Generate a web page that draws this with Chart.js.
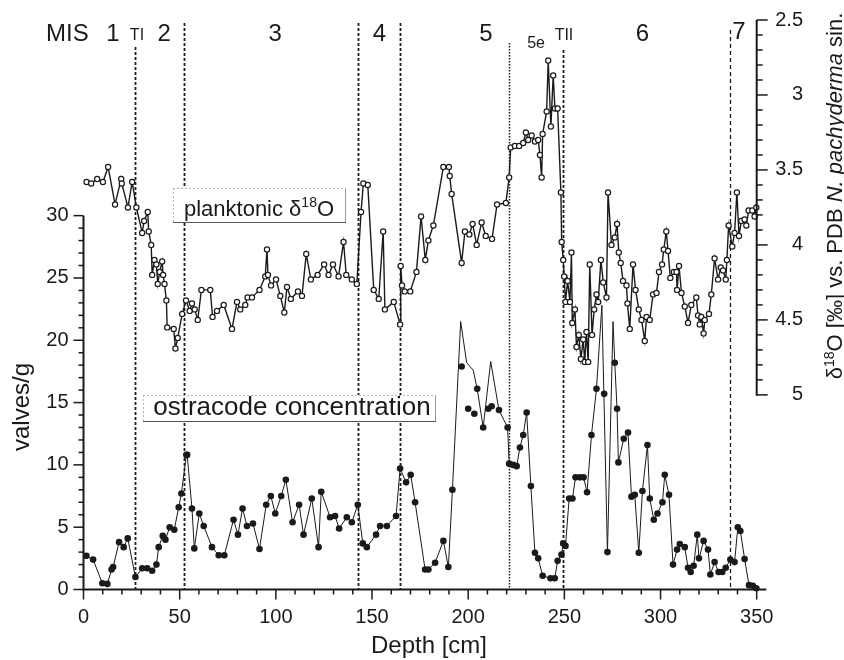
<!DOCTYPE html>
<html>
<head>
<meta charset="utf-8">
<script src="https://cdn.jsdelivr.net/npm/chart.js@4.4.1/dist/chart.umd.min.js"></script>
<style>
  html, body { margin: 0; padding: 0; background: #fff; }
  canvas { display: block; }
</style>
</head>
<body>
<canvas id="depthChart" width="844" height="660"></canvas>
<script>
// planktonic d18O (right axis, reversed)
var deltaDepth = [1.6, 4.0, 7.1, 10.1, 12.8, 16.4, 19.6, 19.9, 23.1, 25.3, 27.5, 30.5, 31.5, 33.4, 33.9, 35.2, 35.7, 36.9, 37.9, 38.6,
    39.6, 40.9, 41.4, 42.1, 43.1, 43.5, 46.9, 47.8, 49.0, 51.3, 53.3, 55.2, 56.4, 57.8, 59.4, 61.3, 65.9, 67.1, 69.4, 72.9,
    77.2, 79.8, 81.5, 84.1, 85.3, 87.6, 91.5, 94.5, 95.4, 95.9, 97.5, 100.1, 102.3, 104.4, 105.8, 107.8, 111.5, 113.6, 115.8, 118.2,
    121.7, 125.1, 127.4, 129.7, 132.6, 135.2, 136.6, 139.5, 142.1, 144.3, 145.5, 147.8, 150.9, 153.5, 155.8, 156.7, 161.3, 164.6, 164.9, 165.6,
    167.0, 169.9, 173.1, 175.5, 177.7, 179.3, 181.9, 187.1, 190.0, 190.4, 191.4, 196.6, 198.3, 200.6, 202.3, 204.4, 207.0, 209.1, 212.4, 215.0,
    219.6, 221.3, 222.1, 224.3, 226.5, 228.6, 230.0, 231.2, 233.0, 234.7, 236.4, 237.3, 238.2, 238.7, 240.8, 241.6, 243.0, 244.2, 245.1, 246.5,
    248.2, 248.6, 249.4, 249.9, 250.6, 251.7, 252.9, 253.7, 254.1, 255.5, 256.3, 257.5, 258.6, 259.8, 260.6, 261.5, 262.4, 263.2, 264.4, 265.5,
    266.7, 267.6, 269.0, 270.2, 271.9, 272.7, 274.5, 276.2, 277.4, 278.3, 279.3, 280.5, 282.3, 282.8, 284.0, 285.7, 287.0, 288.7, 290.1, 291.8,
    292.7, 294.4, 296.1, 297.9, 299.2, 300.8, 301.7, 303.0, 303.9, 305.1, 306.9, 308.3, 308.6, 309.6, 310.9, 312.6, 314.3, 316.0, 318.6, 319.5,
    320.4, 321.2, 322.4, 323.0, 325.2, 326.4, 328.1, 329.9, 331.3, 332.5, 333.9, 334.5, 335.4, 337.3, 338.5, 339.7, 340.8, 342.0, 343.7, 344.6,
    345.8, 347.7, 348.9, 349.8];
var deltaValue = [3.58, 3.59, 3.56, 3.58, 3.48, 3.73, 3.56, 3.59, 3.75, 3.58, 3.75, 3.92, 3.84, 3.78, 3.91, 4.00, 4.20, 4.10, 4.13, 4.26,
    4.18, 4.11, 4.20, 4.26, 4.37, 4.55, 4.56, 4.69, 4.62, 4.46, 4.37, 4.44, 4.39, 4.43, 4.50, 4.30, 4.30, 4.48, 4.44, 4.40,
    4.56, 4.38, 4.43, 4.40, 4.35, 4.35, 4.30, 4.21, 4.03, 4.20, 4.27, 4.23, 4.34, 4.45, 4.28, 4.36, 4.31, 4.34, 4.06, 4.23,
    4.20, 4.13, 4.20, 4.13, 4.21, 3.98, 4.20, 4.23, 4.26, 3.78, 3.59, 3.60, 4.30, 4.36, 3.91, 4.43, 4.38, 4.53, 4.14, 4.27,
    4.31, 4.31, 4.18, 3.81, 4.10, 3.97, 3.87, 3.48, 3.48, 3.54, 3.66, 4.12, 3.91, 3.93, 3.86, 4.00, 3.85, 3.94, 3.96, 3.73,
    3.72, 3.55, 3.35, 3.34, 3.34, 3.32, 3.25, 3.30, 3.27, 3.31, 3.30, 3.40, 3.55, 3.26, 3.11, 2.77, 3.21, 2.87, 3.09, 3.09,
    3.65, 3.98, 4.10, 4.21, 4.38, 4.24, 4.38, 4.05, 4.52, 4.43, 4.68, 4.60, 4.76, 4.63, 4.78, 4.58, 4.78, 4.13, 4.60, 4.43,
    4.33, 4.38, 4.10, 4.25, 4.35, 3.65, 4.00, 3.95, 3.86, 4.05, 4.12, 4.24, 4.27, 4.39, 4.56, 4.13, 4.30, 4.43, 4.50, 4.64,
    4.48, 4.50, 4.33, 4.32, 4.18, 4.13, 4.03, 3.91, 4.04, 4.22, 4.18, 4.18, 4.30, 4.14, 4.32, 4.41, 4.52, 4.40, 4.35, 4.47,
    4.53, 4.48, 4.59, 4.50, 4.46, 4.33, 4.09, 4.23, 4.15, 4.17, 4.23, 4.10, 3.87, 4.01, 3.92, 3.65, 3.94, 3.84, 3.83, 3.87,
    3.77, 3.77, 3.81, 3.75];

// ostracode concentration (left axis), samples lying on the drawn line
var ostracodeDepth = [1.5, 5.0, 9.8, 12.4, 14.6, 15.4, 18.5, 20.9, 23.0, 27.0, 30.5, 33.1, 35.7, 37.9, 39.1, 41.2, 42.6, 44.8, 47.2, 49.5,
    50.9, 53.5, 53.9, 56.4, 57.6, 60.2, 62.5, 66.8, 70.3, 73.2, 78.0, 80.3, 82.7, 85.0, 88.1, 91.5, 95.0, 97.4, 99.7, 102.8,
    105.2, 108.7, 112.1, 114.4, 118.7, 122.2, 123.6, 128.2, 130.8, 132.9, 136.9, 139.5, 142.6, 145.2, 147.3, 152.1, 154.2, 157.7, 162.5, 164.6,
    167.7, 170.1, 172.4, 177.6, 179.3, 182.8, 187.1, 189.7, 191.8, 204.7, 207.8, 216.0, 220.5, 221.3, 223.4, 225.2, 226.9, 228.6, 230.4, 232.6,
    234.7, 236.4, 238.7, 242.8, 245.0, 246.5, 248.5, 249.4, 250.6, 252.5, 254.2, 255.8, 258.0, 260.0, 261.8, 264.1, 266.7, 272.4, 276.2, 277.4,
    278.1, 280.9, 283.1, 284.9, 286.6, 288.7, 290.6, 293.2, 294.4, 296.5, 298.4, 301.0, 302.2, 304.4, 306.5, 308.6, 310.0, 312.6, 314.3, 315.7,
    317.2, 319.1, 320.0, 322.4, 324.7, 325.9, 328.1, 330.2, 332.1, 333.9, 336.3, 338.5, 340.2, 341.5, 343.7, 346.0, 348.0, 349.8];
var ostracodeValue = [2.7, 2.4, 0.5, 0.45, 1.6, 1.8, 3.8, 3.4, 4.1, 1.0, 1.7, 1.7, 1.5, 2.0, 3.4, 4.3, 4.0, 5.0, 4.8, 6.6,
    7.7, 10.8, 10.8, 6.5, 3.3, 6.1, 5.1, 3.4, 2.75, 2.75, 5.6, 4.4, 6.5, 5.1, 5.3, 3.25, 6.8, 7.5, 6.1, 7.5,
    8.8, 5.4, 6.8, 4.4, 7.3, 3.4, 7.85, 5.8, 5.9, 4.9, 5.8, 5.4, 6.8, 3.7, 3.4, 4.4, 5.1, 5.1, 5.9, 9.7,
    8.6, 9.2, 7.0, 1.6, 1.6, 2.15, 3.9, 1.8, 8.0, 16.1, 13.0, 14.4, 13.0, 10.1, 10.0, 9.9, 11.4, 12.4, 14.2, 8.3,
    2.95, 2.5, 1.1, 0.9, 0.9, 2.3, 2.8, 3.7, 3.5, 7.3, 7.3, 9.0, 9.0, 9.0, 7.8, 12.4, 16.1, 3.0, 18.2, 14.5,
    10.2, 12.1, 12.6, 7.45, 7.6, 2.95, 7.9, 11.6, 7.3, 5.6, 6.1, 7.0, 9.2, 7.6, 2.0, 3.2, 3.65, 3.4, 1.75, 1.4,
    1.9, 4.4, 2.5, 3.9, 3.2, 1.2, 2.2, 1.4, 1.4, 1.75, 2.4, 2.2, 5.0, 4.7, 2.45, 0.35, 0.3, 0.1];

// samples plotted off the line, and line vertices without a sample mark
var offLineDepth = [196.6, 200.0, 203.2, 210.4, 212.2, 270.7];
var offLineValue = [17.9, 14.5, 14.1, 14.5, 14.7, 15.7];
var lineOnlyDepth = [196.1, 199.2, 202.6, 211.7, 269.5, 275.3];
var lineOnlyValue = [21.5, 18.2, 17.6, 18.3, 22.8, 21.5];

// isotope stage boundaries [cm]
var misBoundaries = [26.8, 52.3, 142.7, 164.6, 221.4, 249.5, 336.1];

var depthTicks = [0, 50, 100, 150, 200, 250, 300, 350];
var valveTicks = [0, 5, 10, 15, 20, 25, 30];
var deltaTicks = [2.5, 3, 3.5, 4, 4.5, 5];

document.addEventListener('DOMContentLoaded', function () {
    var FONT = '"Liberation Sans", Arial, Helvetica, sans-serif';
    var INK = '#1a1a1a';
    Chart.defaults.font.family = FONT;
    Chart.defaults.color = INK;

    function pairs(xs, ys) {
        return xs.map(function (d, i) { return { x: d, y: ys[i] }; });
    }

    var linePoints = pairs(ostracodeDepth.concat(lineOnlyDepth), ostracodeValue.concat(lineOnlyValue))
        .sort(function (a, b) { return a.x - b.x; });
    var dotPoints = pairs(ostracodeDepth.concat(offLineDepth), ostracodeValue.concat(offLineValue));

    function drawRuns(ctx, parts, x, y) {
        var total = 0;
        parts.forEach(function (p) { ctx.font = p.font; total += ctx.measureText(p.text).width; });
        var cx = x - total / 2;
        parts.forEach(function (p) {
            ctx.font = p.font;
            ctx.fillText(p.text, cx, y + (p.dy || 0));
            cx += ctx.measureText(p.text).width;
        });
    }

    function hline(ctx, x0, x1, y) {
        ctx.beginPath(); ctx.moveTo(x0, y); ctx.lineTo(x1, y); ctx.stroke();
    }
    function vline(ctx, x, y0, y1) {
        ctx.beginPath(); ctx.moveTo(x, y0); ctx.lineTo(x, y1); ctx.stroke();
    }

    function labelBox(ctx, x0, y0, x1, y1) {
        ctx.fillStyle = '#fff';
        ctx.fillRect(x0, y0, x1 - x0, y1 - y0);
        ctx.lineWidth = 1;
        ctx.setLineDash([2, 2]);
        ctx.strokeStyle = '#b5b5b5';
        hline(ctx, x0, x1, y0 + 0.5);
        vline(ctx, x0 + 0.5, y0, y1);
        ctx.setLineDash([]);
        ctx.strokeStyle = '#9a9a9a';
        vline(ctx, x1 - 0.5, y0, y1);
        ctx.strokeStyle = '#555';
        hline(ctx, x0, x1, y1 - 0.5);
    }

    var decorations = {
        id: 'decorations',
        beforeDatasetsDraw: function (chart) {
            var c = chart.ctx, x = chart.scales.x, y = chart.scales.y;
            var bottom = y.getPixelForValue(0);
            var tops = [47, 23, 23, 23, 43, 50, 30];
            var dashes = [[3, 2], [3, 2], [3, 2], [3, 2], [1.5, 1.5], [3, 2], [4, 3]];
            var widths = [1.8, 1.8, 1.8, 1.8, 1.5, 1.8, 1.3];
            c.save();
            c.strokeStyle = INK;
            misBoundaries.forEach(function (d, i) {
                c.setLineDash(dashes[i]);
                c.lineWidth = widths[i];
                vline(c, Math.round(x.getPixelForValue(d)) + 0.5, tops[i], bottom);
            });
            c.restore();
        },
        afterDatasetsDraw: function (chart) {
            var c = chart.ctx, x = chart.scales.x, y = chart.scales.y, y2 = chart.scales.y2;
            c.save();
            // series labels
            labelBox(c, 173, 188, 346, 223);
            labelBox(c, 143, 395, 436, 422);
            c.fillStyle = INK;
            c.textBaseline = 'alphabetic';
            c.textAlign = 'left';
            drawRuns(c, [
                { text: 'planktonic \u03b4', font: '22px ' + FONT },
                { text: '18', font: '14px ' + FONT, dy: -9 },
                { text: 'O', font: '22px ' + FONT }
            ], 259, 216);
            drawRuns(c, [{ text: 'ostracode concentration', font: '26px ' + FONT }], 292, 415);

            // axes
            c.strokeStyle = INK;
            c.lineWidth = 2;
            var y0 = y.getPixelForValue(0);
            var xl = x.getPixelForValue(0);
            var xr = x.getPixelForValue(350);
            hline(c, xl - 1, x.getPixelForValue(355), y0);
            vline(c, xl, y0 + 1, y.getPixelForValue(30));
            vline(c, xr, y2.getPixelForValue(2.5), y2.getPixelForValue(5) + 1);
            c.lineWidth = 1.5;
            for (var d = 0; d <= 350; d += 10) {
                var px = x.getPixelForValue(d);
                vline(c, px, y0, y0 + (d % 50 === 0 ? 10 : 5));
            }
            for (var v = 0; v <= 30; v += 1) {
                var py = y.getPixelForValue(v);
                hline(c, xl - (v % 5 === 0 ? 10 : 5), xl, py);
            }
            for (var i = 25; i <= 50; i += 1) {
                var pr = y2.getPixelForValue(i / 10);
                hline(c, xr, xr + (i % 5 === 0 ? 11 : 6), pr);
            }

            // stage labels
            c.fillStyle = INK;
            c.textAlign = 'left';
            c.font = '24px ' + FONT;
            c.fillText('MIS', 46, 41);
            c.textAlign = 'center';
            var stages = [['1', 15.3], ['2', 41.9], ['3', 99.6], ['4', 153.9], ['5', 209.2], ['6', 290.6], ['7', 340.8]];
            stages.forEach(function (s) {
                c.fillText(s[0], x.getPixelForValue(s[1]), s[0] === '7' ? 39 : 41);
            });
            c.font = '16px ' + FONT;
            c.fillText('TI', x.getPixelForValue(27.8), 40);
            c.fillText('TII', x.getPixelForValue(249.8), 40);
            c.fillText('5e', x.getPixelForValue(235.3), 48);

            // axis titles
            c.font = '24px ' + FONT;
            c.fillText('Depth [cm]', 429, 653);
            c.save();
            c.translate(29, 407);
            c.rotate(-Math.PI / 2);
            c.fillText('valves/g', 0, 0);
            c.restore();
            c.save();
            c.translate(842, 196);
            c.rotate(-Math.PI / 2);
            c.textAlign = 'left';
            drawRuns(c, [
                { text: '\u03b4', font: '22px ' + FONT },
                { text: '18', font: '14px ' + FONT, dy: -8 },
                { text: 'O [\u2030] vs. PDB ', font: '22px ' + FONT },
                { text: 'N. pachyderma', font: 'italic 22px ' + FONT },
                { text: ' sin.', font: '22px ' + FONT }
            ], 0, 0);
            c.restore();
            c.restore();
        }
    };

    function fixedTicks(values) {
        return function (scale) {
            scale.ticks = values.map(function (v) { return { value: v }; });
        };
    }
    function plainLabel(value) {
        return String(value);
    }

    var ctx = document.getElementById('depthChart').getContext('2d');
    var depthChart = new Chart(ctx, {
        type: 'line',
        data: {
            datasets: [{
                label: 'planktonic d18O',
                yAxisID: 'y2',
                data: pairs(deltaDepth, deltaValue),
                borderColor: INK,
                borderWidth: 1.4,
                pointRadius: 2.6,
                pointBackgroundColor: '#fff',
                pointBorderColor: INK,
                pointBorderWidth: 1.2,
                tension: 0,
                clip: false
            }, {
                label: 'ostracode concentration line',
                yAxisID: 'y',
                data: linePoints,
                borderColor: INK,
                borderWidth: 1,
                pointRadius: 0,
                tension: 0,
                clip: false
            }, {
                label: 'ostracode concentration',
                yAxisID: 'y',
                data: dotPoints,
                showLine: false,
                pointRadius: 3.3,
                pointBackgroundColor: INK,
                pointBorderWidth: 0,
                clip: false
            }]
        },
        options: {
            responsive: false,
            animation: false,
            events: [],
            layout: { padding: { top: 19, left: 0, right: 41, bottom: 0 } },
            plugins: {
                legend: { display: false },
                tooltip: { enabled: false }
            },
            scales: {
                x: {
                    type: 'linear',
                    position: 'bottom',
                    min: 0,
                    max: 350,
                    grid: { display: false, drawTicks: true, tickLength: 10 },
                    border: { display: false },
                    ticks: { padding: 6, maxRotation: 0, autoSkip: false, font: { size: 20 }, color: INK, callback: plainLabel },
                    afterBuildTicks: fixedTicks(depthTicks),
                    afterFit: function (scale) { scale.height = 70.5; }
                },
                y: {
                    type: 'linear',
                    position: 'left',
                    min: 0,
                    max: 45.7,
                    grid: { display: false, drawTicks: true, tickLength: 10 },
                    border: { display: false },
                    ticks: { padding: 5, font: { size: 20 }, color: INK, callback: plainLabel },
                    afterBuildTicks: fixedTicks(valveTicks),
                    afterFit: function (scale) { scale.width = 83.5; }
                },
                y2: {
                    type: 'linear',
                    position: 'right',
                    reverse: true,
                    min: 2.5,
                    max: 6.298,
                    grid: { display: false, drawTicks: true, tickLength: 10 },
                    border: { display: false },
                    ticks: { padding: 8, crossAlign: 'far', font: { size: 20 }, color: INK, callback: plainLabel },
                    afterBuildTicks: fixedTicks(deltaTicks),
                    afterFit: function (scale) { scale.width = 46.3; }
                }
            }
        },
        plugins: [decorations]
    });
});
</script>
</body>
</html>
